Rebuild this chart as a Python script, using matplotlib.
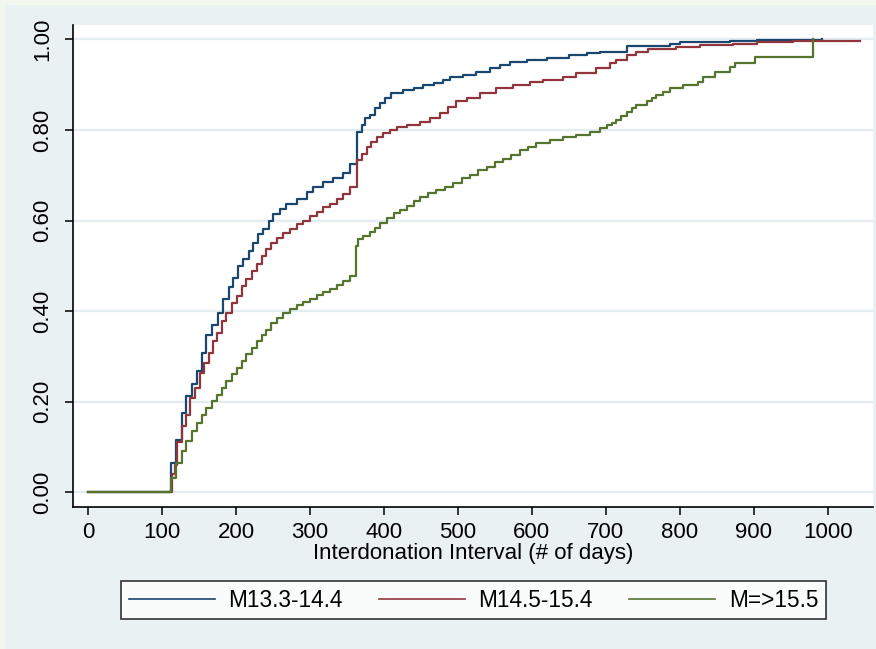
import matplotlib
matplotlib.use("Agg")
import matplotlib.pyplot as plt
from matplotlib.patches import Rectangle

plt.rcParams['font.family'] = ['Liberation Sans', 'DejaVu Sans']

# Kaplan-Meier style cumulative curves (days, share)
blue_days = [0, 112, 119, 127, 133, 140, 147, 154, 160, 167,
             176, 182, 190, 196, 203, 210, 217, 223, 230, 237,
             244, 250, 259, 268, 282, 296, 304, 318, 331, 345,
             354, 363, 370, 374, 381, 388, 395, 402, 410, 426,
             440, 453, 467, 480, 489, 507, 525, 543, 557, 570,
             593, 620, 650, 675, 692, 728, 786, 800, 868, 904, 992]
blue_vals = [0, 0.064, 0.116, 0.175, 0.212, 0.238, 0.267, 0.308, 0.348, 0.370,
             0.396, 0.426, 0.452, 0.474, 0.500, 0.514, 0.533, 0.551, 0.570, 0.581,
             0.599, 0.614, 0.625, 0.636, 0.647, 0.662, 0.673, 0.684, 0.695, 0.706,
             0.725, 0.796, 0.811, 0.826, 0.833, 0.848, 0.859, 0.870, 0.881, 0.888,
             0.892, 0.899, 0.903, 0.910, 0.918, 0.922, 0.929, 0.936, 0.944, 0.951,
             0.954, 0.960, 0.965, 0.970, 0.973, 0.986, 0.991, 0.995, 0.997, 0.999, 1.0]

red_days = [0, 113, 117, 120, 127, 133, 138, 145, 151, 157,
            163, 169, 175, 181, 187, 194, 201, 208, 214, 221,
            228, 235, 241, 248, 255, 264, 273, 282, 291, 300,
            309, 318, 327, 336, 345, 354, 363,
            370, 377, 383, 390, 399, 408, 417, 431, 449, 462,
            476, 487, 498, 512, 530, 552, 575, 597, 615, 642,
            660, 687, 705, 714, 728, 741, 757, 795, 827, 872,
            904, 953, 1043]
red_vals = [0, 0.040, 0.060, 0.110, 0.145, 0.171, 0.208, 0.230, 0.263, 0.286,
            0.308, 0.334, 0.352, 0.378, 0.396, 0.418, 0.433, 0.455, 0.470, 0.489,
            0.503, 0.522, 0.537, 0.551, 0.562, 0.573, 0.581, 0.592, 0.599, 0.610,
            0.618, 0.629, 0.636, 0.647, 0.658, 0.673, 0.733,
            0.748, 0.763, 0.774, 0.785, 0.793, 0.800, 0.807, 0.811, 0.818, 0.826,
            0.837, 0.851, 0.863, 0.870, 0.881, 0.892, 0.899, 0.907, 0.910, 0.918,
            0.925, 0.936, 0.947, 0.955, 0.966, 0.973, 0.980, 0.984, 0.988, 0.991,
            0.994, 0.997, 0.997]

green_days = [0, 112, 119, 127, 133, 140, 147, 154, 160, 167,
              174, 181, 187, 194, 201, 208, 214, 221, 228, 235,
              241, 248, 255, 264, 273, 282, 291, 300, 309, 318,
              327, 336, 345, 354, 362, 365, 372, 381, 388, 395,
              404, 413, 422, 431, 440, 449, 460, 471, 482, 494,
              505, 516, 527, 539, 550, 561, 572, 584, 595, 606,
              624, 642, 660, 678, 692, 701, 708, 714, 721, 728,
              735, 741, 755, 762, 768, 777, 786, 804, 825, 831,
              847, 868, 874, 901, 980]
green_vals = [0, 0.031, 0.064, 0.090, 0.112, 0.134, 0.153, 0.171, 0.186, 0.201,
              0.215, 0.230, 0.245, 0.260, 0.275, 0.289, 0.304, 0.319, 0.334, 0.348,
              0.359, 0.374, 0.385, 0.396, 0.405, 0.413, 0.420, 0.427, 0.435, 0.442,
              0.449, 0.457, 0.466, 0.477, 0.544, 0.559, 0.566, 0.575, 0.583, 0.594,
              0.605, 0.616, 0.623, 0.631, 0.642, 0.653, 0.660, 0.667, 0.675, 0.682,
              0.693, 0.700, 0.712, 0.719, 0.730, 0.737, 0.745, 0.756, 0.763, 0.771,
              0.778, 0.784, 0.789, 0.796, 0.804, 0.811, 0.815, 0.822, 0.831, 0.840,
              0.848, 0.855, 0.863, 0.870, 0.877, 0.885, 0.892, 0.899, 0.907, 0.918,
              0.929, 0.940, 0.947, 0.961, 1.0]

labels = ["M13.3-14.4", "M14.5-15.4", "M=>15.5"]
colors = ["#1a476f", "#90353b", "#55752f"]
x_ticks = [0, 100, 200, 300, 400, 500, 600, 700, 800, 900, 1000]
y_ticks = [0.0, 0.2, 0.4, 0.6, 0.8, 1.0]

bg = "#eaf1f3"
fig = plt.figure(figsize=(8.76, 6.49), dpi=100, facecolor=bg)
# thin lighter rim on the top and left edge
fig.patches.append(Rectangle((0, 0.994), 1, 0.006, transform=fig.transFigure,
                             color="#f3f8ee", zorder=0))
fig.patches.append(Rectangle((0, 0), 0.005, 1, transform=fig.transFigure,
                             color="#f3f8ee", zorder=0))

ax = fig.add_axes([0.0833, 0.2188, 0.9133, 0.7427])
ax.set_facecolor("white")

series = [(blue_days, blue_vals), (red_days, red_vals), (green_days, green_vals)]
for (d, v), lab, col in zip(series, labels, colors):
    ax.plot(d, v, drawstyle="steps-post", color=col, lw=1.6, label=lab, zorder=3)

ax.set_xlim(-20.3, 1061)
ax.set_ylim(-0.033, 1.032)

# horizontal grid only
for yv in y_ticks:
    ax.axhline(yv, color="#e3ecef", lw=1.6, zorder=1)

for side in ["top", "right"]:
    ax.spines[side].set_visible(False)
for side in ["left", "bottom"]:
    ax.spines[side].set_linewidth(1.2)
    ax.spines[side].set_color("black")

ax.set_xticks(x_ticks)
ax.set_xticklabels([str(t) for t in x_ticks])
ax.set_yticks(y_ticks)
ax.set_yticklabels(["%.2f" % t for t in y_ticks], rotation=90, va="center")
ax.tick_params(axis="both", direction="out", length=6, width=1.1, labelsize=16)
ax.tick_params(axis="y", pad=8)
ax.tick_params(axis="x", pad=5)

ax.set_xlabel("Interdonation Interval (# of days)", fontsize=16, labelpad=0)

leg = fig.legend(loc="center", bbox_to_anchor=(0.5405, 0.0755), ncol=3,
                 fontsize=16.3, frameon=True, fancybox=False, edgecolor="black",
                 handlelength=3.8, handletextpad=0.6, columnspacing=1.6,
                 borderpad=0.35)
leg.get_frame().set_linewidth(1.2)
leg.get_frame().set_facecolor("white")
for line in leg.get_lines():
    line.set_linewidth(1.2)

fig.savefig("out.png", dpi=100, facecolor=bg)
